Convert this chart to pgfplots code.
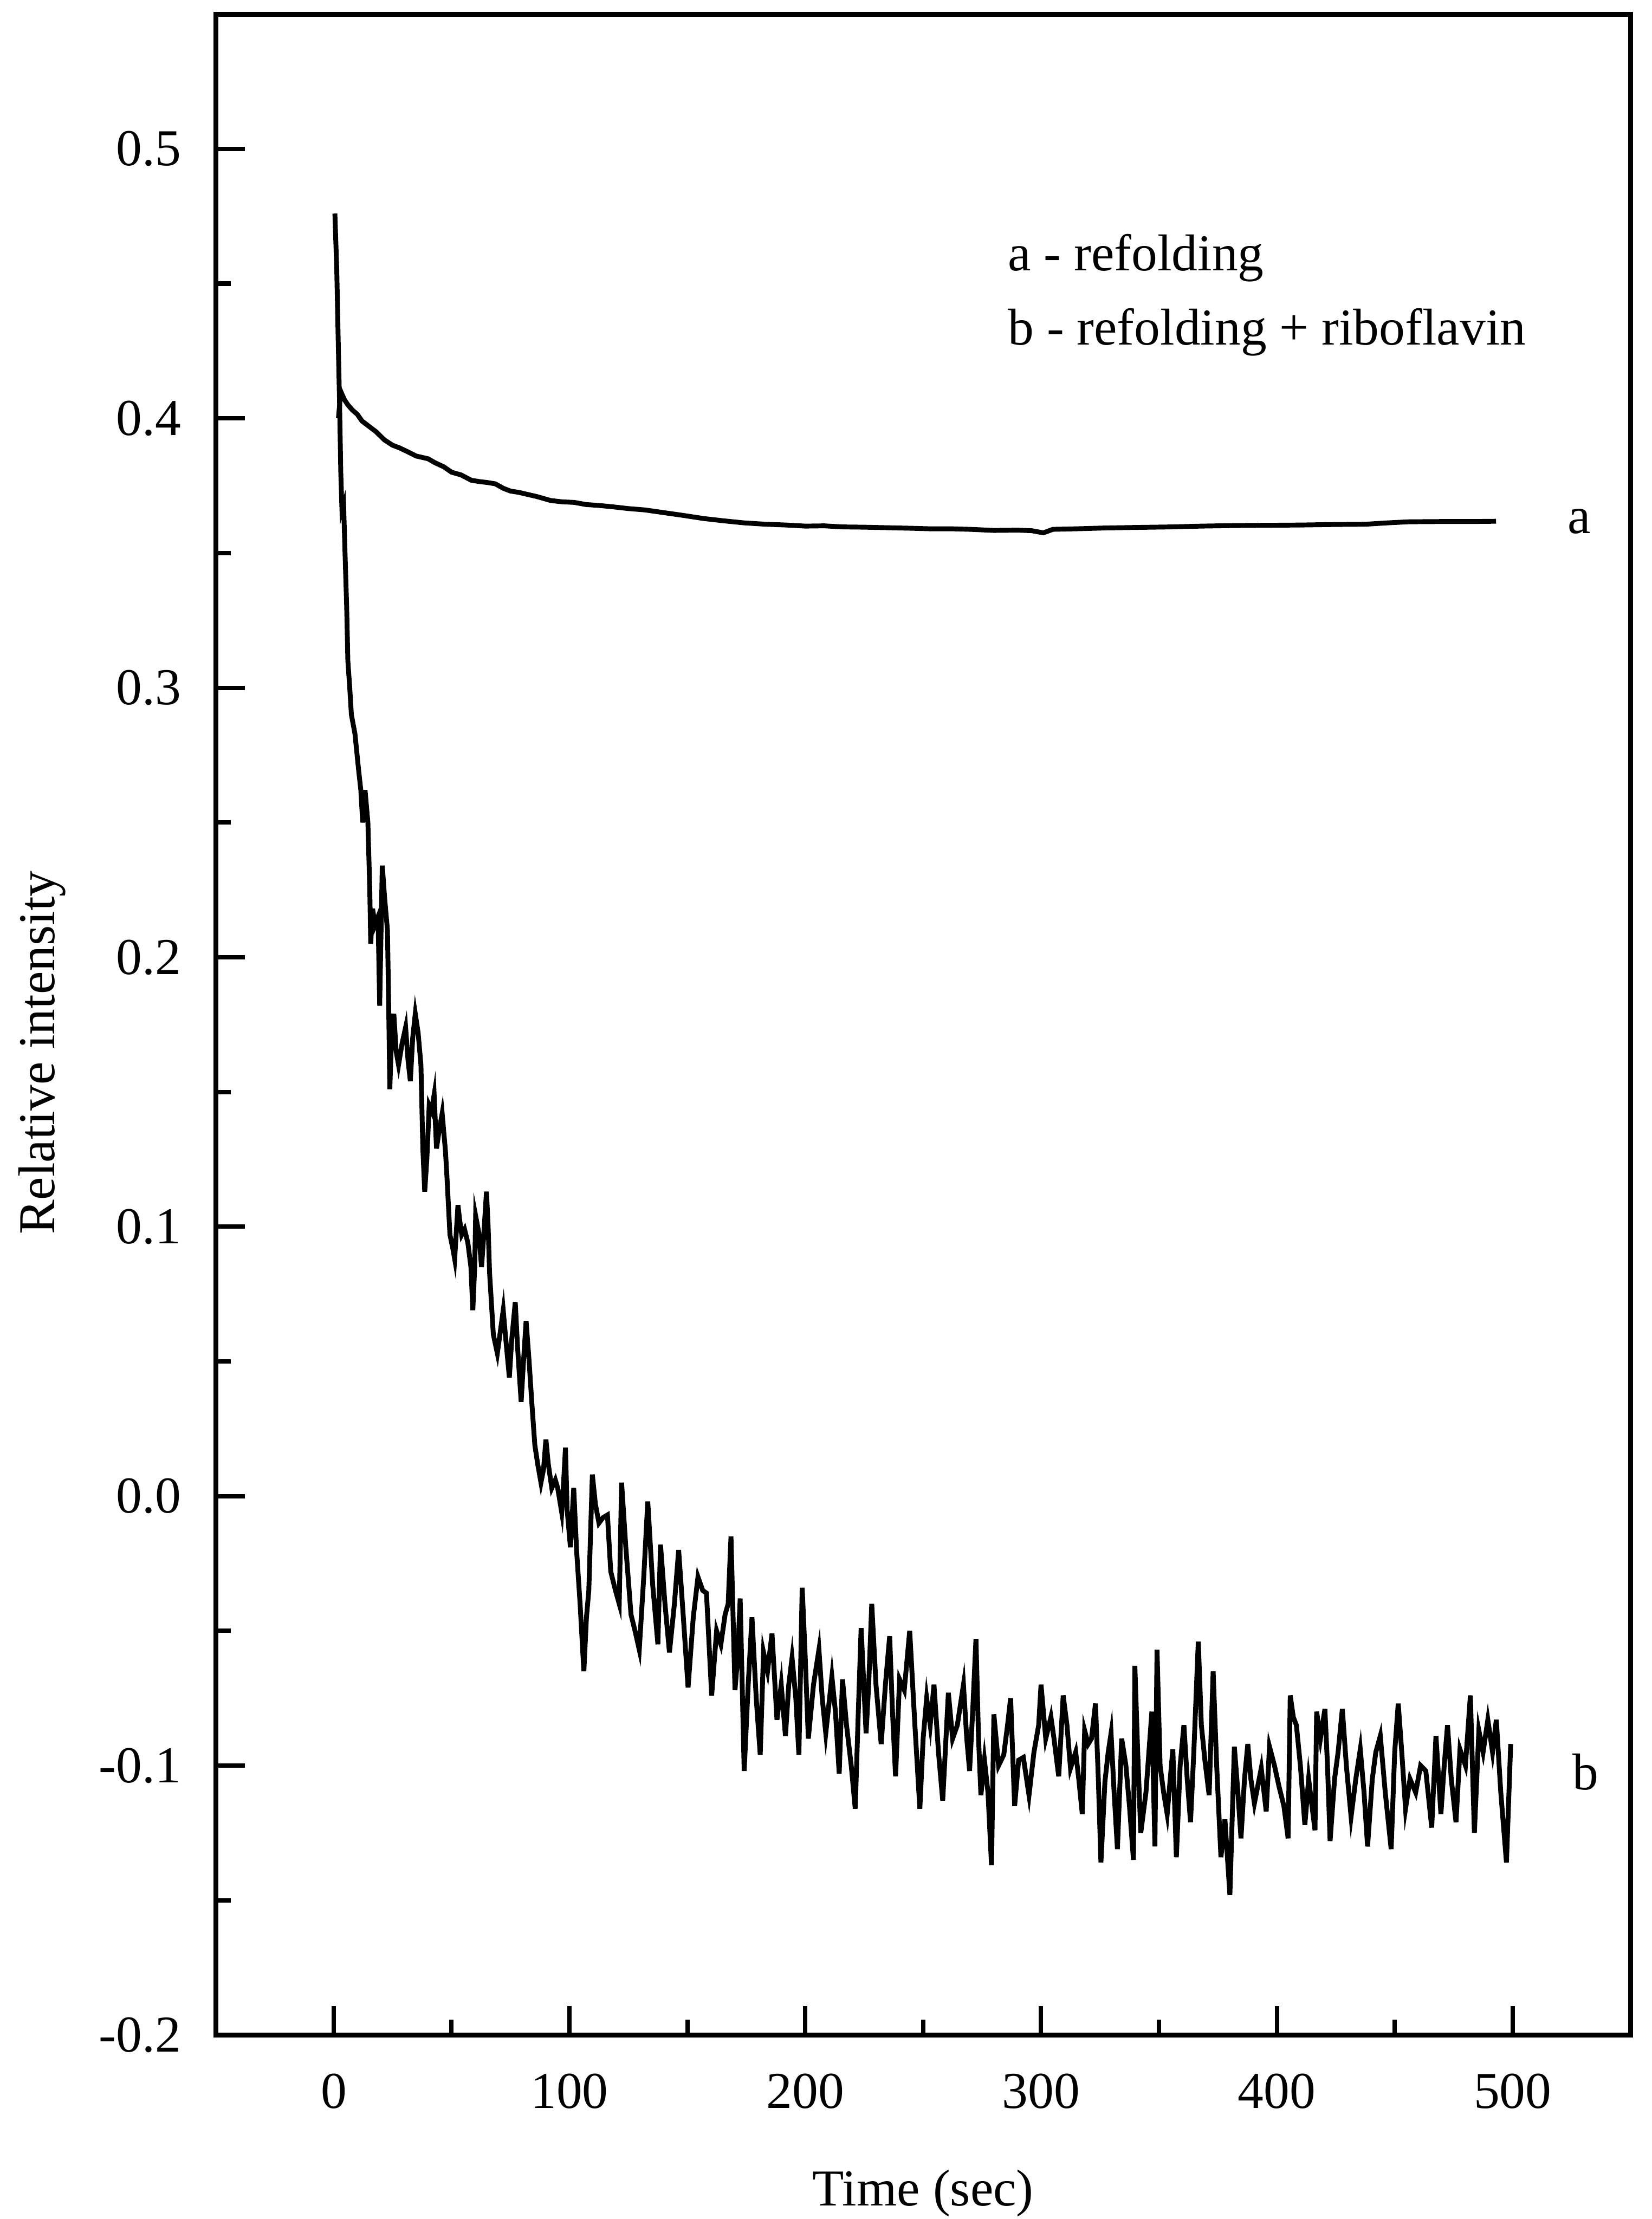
\documentclass[border=0pt]{standalone}
\usepackage{fontspec}
\setmainfont{Liberation Serif}
\usepackage{pgfplots}
\pgfplotsset{compat=1.18}
\begin{document}
\fontsize{10.7}{13}\selectfont
\begin{tikzpicture}
\begin{axis}[
  scale only axis,
  width=10.278cm, height=14.684cm,
  xmin=-50, xmax=550, ymin=-0.2, ymax=0.55,
  axis line style={line width=1pt},
  tick pos=left, tick align=inside,
  major tick length=0.21cm, minor tick length=0.11cm,
  every tick/.style={line width=0.9pt, black},
  xtick={0,100,200,300,400,500},
  xticklabels={0,100,200,300,400,500},
  minor xtick={50,150,250,350,450},
  ytick={-0.2,-0.1,0,0.1,0.2,0.3,0.4,0.5},
  yticklabels={-0.2,-0.1,0.0,0.1,0.2,0.3,0.4,0.5},
  minor ytick={-0.15,-0.05,0.05,0.15,0.25,0.35,0.45},
  xticklabel style={yshift=-0.15cm},
  yticklabel style={xshift=-0.12cm},
  clip=false,
]
\addplot[line width=1pt, black] coordinates {
(2.0,0.400) (3.0,0.410) (4.5,0.407) (6,0.405) (8,0.403) (10,0.4015) (12,0.399)
(15,0.397) (18,0.395) (21.5,0.392) (25,0.390) (28,0.389) (31.6,0.3875) (35,0.386)
(40,0.385) (43,0.3835) (46.7,0.382) (50,0.380) (54,0.379) (58.4,0.377) (62,0.3765)
(65,0.3762) (68.5,0.3757) (72,0.374) (75,0.373) (78.6,0.3725) (82,0.3718) (86,0.371)
(92,0.3695) (97,0.369) (102,0.3688) (107,0.368) (112,0.3677) (118,0.3672) (125,0.3665)
(132,0.366) (140,0.3650) (148,0.3640) (157,0.3628) (165,0.3620) (174,0.3612) (183,0.3607)
(192,0.3604) (200,0.3600) (208,0.3601) (216,0.3597) (225,0.3596) (235,0.3594) (245,0.3592)
(253,0.3590) (262,0.3590) (270,0.3588) (280,0.3584) (290,0.3585) (296,0.3583) (301,0.3575)
(305,0.3588) (315,0.3590) (327,0.3593) (340,0.3595) (355,0.3597) (368,0.3600) (382,0.3602)
(395,0.3603) (410,0.3604) (425,0.3606) (437.7,0.3607) (447,0.3612) (456,0.3616) (470,0.3617)
(483,0.3617) (493,0.3618)
};
\addplot[line width=1pt, black] coordinates {
(0.5,0.476) (1.3,0.455) (2.0,0.425) (2.5,0.405) (3.0,0.380) (3.5,0.366) (4.2,0.368)
(4.8,0.350) (5.5,0.330) (6.0,0.310) (6.8,0.300) (7.5,0.290) (9.0,0.283) (10.5,0.270)
(11.5,0.262) (12.3,0.250) (13.3,0.262) (14.5,0.250) (15.3,0.225) (15.7,0.205) (16.5,0.218)
(17.5,0.212) (18.8,0.215) (19.5,0.182) (20.2,0.215) (20.6,0.234) (21.6,0.222) (22.8,0.210)
(23.3,0.183) (23.8,0.151) (24.5,0.170) (25.5,0.179) (26.5,0.165) (27.5,0.160) (29.0,0.168)
(30.5,0.174) (31.5,0.162) (32.5,0.154) (33.5,0.170) (34.6,0.179) (35.8,0.172) (37.0,0.160)
(37.8,0.129) (38.6,0.113) (39.5,0.125) (40.5,0.145) (41.5,0.143) (42.6,0.149) (43.6,0.129)
(44.6,0.135) (46.0,0.142) (47.4,0.128) (48.0,0.119) (49.3,0.097) (50.5,0.092) (51.3,0.088)
(52.7,0.108) (53.5,0.102) (54.3,0.097) (55.5,0.099) (56.9,0.094) (58.2,0.085) (59.0,0.069)
(59.8,0.085) (60.2,0.104) (61.5,0.098) (62.7,0.085) (63.5,0.095) (64.8,0.113) (65.5,0.100)
(66.1,0.083) (67.7,0.060) (69.4,0.053) (70.5,0.060) (71.9,0.069) (72.8,0.060) (74.5,0.044)
(75.5,0.058) (77.0,0.072) (78.0,0.055) (79.5,0.035) (80.5,0.050) (81.6,0.065) (82.8,0.051)
(84.0,0.035) (85.3,0.019) (86.5,0.012) (87.9,0.005) (89.0,0.010) (90.0,0.021) (91.0,0.012)
(92.5,0.003) (94.0,0.006) (95.0,0.003) (96.7,-0.006) (97.5,0.005) (98.3,0.018) (99.0,-0.005)
(100.4,-0.019) (101.8,0.003) (103.0,-0.020) (104.5,-0.040) (106.1,-0.065) (107.2,-0.045)
(108.2,-0.035) (109.7,0.008) (111.0,-0.003) (112.5,-0.010) (114.2,-0.008) (116.1,-0.007)
(117.5,-0.028) (119.5,-0.035) (121.1,-0.040) (122.1,0.005) (123.9,-0.019) (126.1,-0.044)
(127.8,-0.050) (129.6,-0.057) (131.5,-0.030) (133.2,-0.002) (135.3,-0.033) (137.5,-0.055)
(138.6,-0.018) (140.5,-0.040) (142.4,-0.058) (144.5,-0.040) (146.3,-0.020) (148.3,-0.045)
(150.3,-0.071) (152.5,-0.045) (154.5,-0.030) (156.5,-0.035) (158.1,-0.036) (160.3,-0.074)
(162.4,-0.050) (164.2,-0.055) (166.0,-0.044) (167.3,-0.040) (168.5,-0.015) (170.2,-0.072)
(171.3,-0.060) (172.4,-0.038) (174.1,-0.102) (175.8,-0.070) (177.4,-0.045) (179.2,-0.075)
(180.9,-0.096) (182.3,-0.058) (184.0,-0.065) (185.9,-0.051) (188.0,-0.083) (189.8,-0.070)
(191.6,-0.089) (193.0,-0.070) (194.4,-0.060) (196.0,-0.075) (197.3,-0.096) (198.7,-0.034)
(200.0,-0.060) (201.3,-0.090) (203.5,-0.070) (205.8,-0.057) (207.2,-0.075) (208.7,-0.088)
(211.3,-0.067) (212.8,-0.080) (214.4,-0.103) (215.8,-0.068) (217.5,-0.085) (219.5,-0.100)
(221.2,-0.116) (222.5,-0.080) (223.7,-0.049) (225.8,-0.088) (226.9,-0.070) (228.2,-0.040)
(230.0,-0.070) (232.2,-0.092) (234.0,-0.070) (235.8,-0.052) (237.0,-0.080) (238.3,-0.104)
(240.0,-0.068) (242.0,-0.072) (244.3,-0.050) (246.5,-0.085) (248.6,-0.116) (250.0,-0.090)
(251.5,-0.075) (253.0,-0.085) (254.6,-0.070) (256.5,-0.095) (258.3,-0.113) (260.7,-0.073)
(262.5,-0.090) (264.5,-0.085) (267.1,-0.070) (268.5,-0.090) (269.7,-0.102) (271.0,-0.080)
(272.4,-0.053) (273.5,-0.090) (274.5,-0.111) (276.0,-0.098) (277.5,-0.110) (279.0,-0.137)
(280.0,-0.081) (282.0,-0.100) (284.2,-0.096) (285.8,-0.085) (287.1,-0.075) (288.8,-0.115)
(290.5,-0.098) (292.5,-0.097) (294.9,-0.111) (297.0,-0.095) (299.0,-0.085) (300.0,-0.070)
(302.0,-0.090) (304.2,-0.082) (305.5,-0.090) (307.5,-0.104) (309.4,-0.074) (311.0,-0.085)
(312.5,-0.101) (314.7,-0.095) (316.0,-0.105) (317.5,-0.118) (318.5,-0.087) (320.0,-0.092)
(321.4,-0.090) (323.1,-0.077) (324.3,-0.105) (325.4,-0.136) (327.1,-0.106) (328.5,-0.095)
(329.7,-0.088) (331.0,-0.110) (332.4,-0.131) (334.2,-0.090) (336.0,-0.100) (337.5,-0.115)
(339.2,-0.135) (339.8,-0.063) (341.0,-0.095) (342.3,-0.125) (344.5,-0.110) (347.0,-0.080)
(348.3,-0.130) (349.2,-0.057) (350.5,-0.100) (352.0,-0.110) (353.5,-0.118) (355.9,-0.094)
(357.4,-0.134) (359.0,-0.100) (360.6,-0.085) (362.0,-0.105) (363.4,-0.121) (364.8,-0.095)
(366.7,-0.054) (368.0,-0.085) (369.5,-0.098) (371.3,-0.111) (373.0,-0.065) (374.5,-0.100)
(376.3,-0.134) (378.0,-0.120) (380.1,-0.148) (382.0,-0.093) (383.5,-0.110) (384.8,-0.127)
(386.3,-0.105) (387.7,-0.092) (389.0,-0.105) (390.5,-0.114) (393.4,-0.101) (395.5,-0.117)
(396.9,-0.093) (399.0,-0.100) (401.0,-0.108) (403.0,-0.115) (404.8,-0.127) (405.7,-0.074)
(407.0,-0.082) (408.3,-0.085) (410.0,-0.100) (411.9,-0.122) (413.5,-0.105) (416.2,-0.124)
(416.9,-0.080) (418.5,-0.090) (420.4,-0.079) (421.5,-0.100) (422.6,-0.128) (424.5,-0.105)
(426.0,-0.095) (427.8,-0.079) (429.5,-0.100) (431.5,-0.119) (433.5,-0.105) (435.4,-0.094)
(437.0,-0.110) (438.5,-0.130) (440.5,-0.105) (442.0,-0.095) (443.9,-0.089) (446.0,-0.110)
(448.5,-0.131) (450.0,-0.095) (451.5,-0.077) (453.0,-0.095) (454.6,-0.116) (456.5,-0.105)
(458.9,-0.110) (461.0,-0.100) (463.2,-0.102) (465.7,-0.123) (467.5,-0.089) (469.6,-0.118)
(471.0,-0.100) (472.4,-0.085) (474.0,-0.105) (476.0,-0.121) (477.7,-0.094) (480.0,-0.100)
(482.1,-0.074) (483.8,-0.125) (485.7,-0.087) (487.5,-0.095) (489.5,-0.083) (491.5,-0.095)
(493.1,-0.083) (495.0,-0.110) (497.4,-0.136) (499.2,-0.092)
};
\node[anchor=base west, inner sep=0] at (axis cs:285.6,0.4549) {a - refolding};
\node[anchor=base west, inner sep=0] at (axis cs:285.6,0.4273) {b - refolding + riboflavin};
\node[anchor=base west, inner sep=0] at (axis cs:523,0.3573) {a};
\node[anchor=base west, inner sep=0] at (axis cs:525,-0.109) {b};
\end{axis}
\node[anchor=base, inner sep=0] at ([yshift=-1.239cm]current axis.south) {Time (sec)};
\node[anchor=base, inner sep=0, rotate=90] at ([xshift=-1.172cm, yshift=-0.205cm]current axis.west) {Relative intensity};
\path ([shift={(-1.568cm,-1.337cm)}]current axis.south west) rectangle ([shift={(0.154cm,0.103cm)}]current axis.north east);
\end{tikzpicture}
\end{document}
